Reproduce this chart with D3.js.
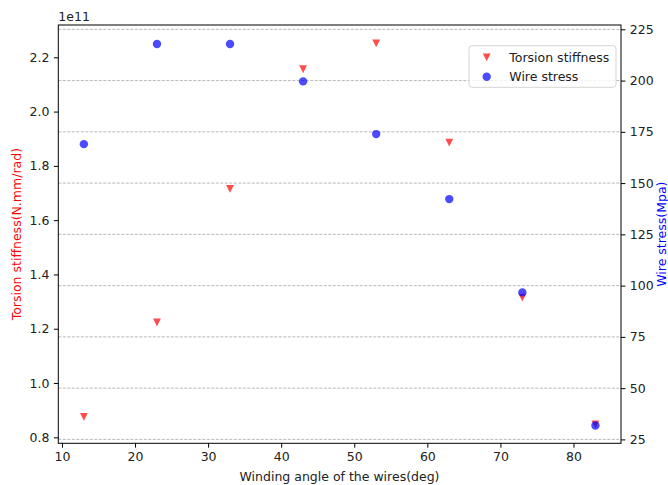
<!DOCTYPE html>
<html>
<head>
<meta charset="utf-8">
<script src="https://cdn.jsdelivr.net/npm/d3@7"></script>
<style>
  body { margin: 0; background: #fff; }
  text { font-family: "DejaVu Sans", sans-serif; }
</style>
</head>
<body>
<svg id="chart" width="668" height="485"></svg>
<script>
// ---- data ----
const angles = [13, 23, 33, 43, 53, 63, 73, 83];
const torsionStiffness = [0.875e11, 1.223e11, 1.715e11, 2.156e11, 2.251e11, 1.886e11, 1.315e11, 0.848e11];
const wireStress = [169.0, 217.8, 217.8, 199.6, 173.9, 142.2, 96.7, 31.8];
const xTicks = [10, 20, 30, 40, 50, 60, 70, 80];
const leftTicks = [0.8e11, 1.0e11, 1.2e11, 1.4e11, 1.6e11, 1.8e11, 2.0e11, 2.2e11];
const rightTicks = [25, 50, 75, 100, 125, 150, 175, 200, 225];
const seriesNames = ["Torsion stiffness", "Wire stress"];

// ---- layout ----
const L = 58.3, R = 621, T = 25, B = 443.3;
const fs = 12.5;
const svg = d3.select("#chart");
svg.append("rect").attr("width", 668).attr("height", 485).attr("fill", "#fff");

const x = d3.scaleLinear().domain([9.5, 86.5]).range([L, R]);
const yL = d3.scaleLinear().domain([0.778e11, 2.319e11]).range([B, T]);
const yR = d3.scaleLinear().domain([23.1, 227.1]).range([B, T]);

const tri = r => `M${-r},${-r}L${r},${-r}L0,${r}Z`;

// red points (primary axis)
svg.append("g").selectAll("path").data(angles).join("path")
  .attr("d", tri(3.9))
  .attr("transform", (d, i) => `translate(${x(d)},${yL(torsionStiffness[i])})`)
  .attr("fill", "red").attr("fill-opacity", 0.7);

// grid from secondary axis
svg.append("g").selectAll("line").data(rightTicks).join("line")
  .attr("x1", L).attr("x2", R)
  .attr("y1", d => yR(d)).attr("y2", d => yR(d))
  .attr("stroke", "#b0b0b0").attr("stroke-width", 0.9)
  .attr("stroke-dasharray", "3,1.5");

// blue points (secondary axis)
svg.append("g").selectAll("circle").data(angles).join("circle")
  .attr("cx", d => x(d))
  .attr("cy", (d, i) => yR(wireStress[i]))
  .attr("r", 4.2)
  .attr("fill", "blue").attr("fill-opacity", 0.7);

// axes
function styleAxis(g) {
  g.selectAll(".domain").remove();
  g.selectAll(".tick line").attr("stroke", "#000").attr("stroke-width", 1);
  g.selectAll(".tick text").attr("fill", "#222").style("font-size", fs + "px")
    .style("font-family", "DejaVu Sans, sans-serif");
}
svg.append("g").attr("transform", `translate(0,${B})`)
  .call(d3.axisBottom(x).tickValues(xTicks).tickSize(4.4).tickPadding(4.4).tickFormat(d3.format("d")))
  .call(styleAxis);
svg.append("g").attr("transform", `translate(${L},0)`)
  .call(d3.axisLeft(yL).tickValues(leftTicks).tickSize(4.4).tickPadding(4.4).tickFormat(d => (d / 1e11).toFixed(1)))
  .call(styleAxis);
svg.append("g").attr("transform", `translate(${R},0)`)
  .call(d3.axisRight(yR).tickValues(rightTicks).tickSize(4.4).tickPadding(4.4).tickFormat(d3.format("d")))
  .call(styleAxis);

// spines
svg.append("rect").attr("x", L).attr("y", T).attr("width", R - L).attr("height", B - T)
  .attr("fill", "none").attr("stroke", "#000").attr("stroke-width", 1);

// offset text
svg.append("text").attr("x", L).attr("y", 20.5).attr("font-size", fs).attr("fill", "#222").text("1e11");

// axis labels
svg.append("text").attr("x", 339.5).attr("y", 476).attr("text-anchor", "middle")
  .attr("dominant-baseline", "central").attr("font-size", fs).attr("fill", "#222")
  .text("Winding angle of the wires(deg)");
svg.append("text").attr("transform", `translate(16.5,${(T + B) / 2}) rotate(-90)`)
  .attr("text-anchor", "middle").attr("dominant-baseline", "central")
  .attr("font-size", fs).attr("fill", "red").text("Torsion stiffness(N.mm/rad)");
svg.append("text").attr("transform", `translate(661,${(T + B) / 2}) rotate(-90)`)
  .attr("text-anchor", "middle").attr("dominant-baseline", "central")
  .attr("font-size", fs).attr("fill", "blue").text("Wire stress(Mpa)");

// legend
const lg = svg.append("g");
lg.append("rect").attr("x", 469).attr("y", 45.7).attr("width", 147).attr("height", 41.6)
  .attr("rx", 3).attr("fill", "#fff").attr("fill-opacity", 0.8)
  .attr("stroke", "#d5d5d5").attr("stroke-width", 1);
lg.append("path").attr("d", tri(3.9)).attr("transform", "translate(486.7,57.3)")
  .attr("fill", "red").attr("fill-opacity", 0.7);
lg.append("circle").attr("cx", 486.7).attr("cy", 76.7).attr("r", 4.2)
  .attr("fill", "blue").attr("fill-opacity", 0.7);
lg.selectAll("text.lt").data(seriesNames).join("text").attr("class", "lt")
  .attr("x", 509.3).attr("y", (d, i) => 57.3 + i * 19.4)
  .attr("dominant-baseline", "central").attr("font-size", fs).attr("fill", "#222")
  .text(d => d);
</script>
</body>
</html>
